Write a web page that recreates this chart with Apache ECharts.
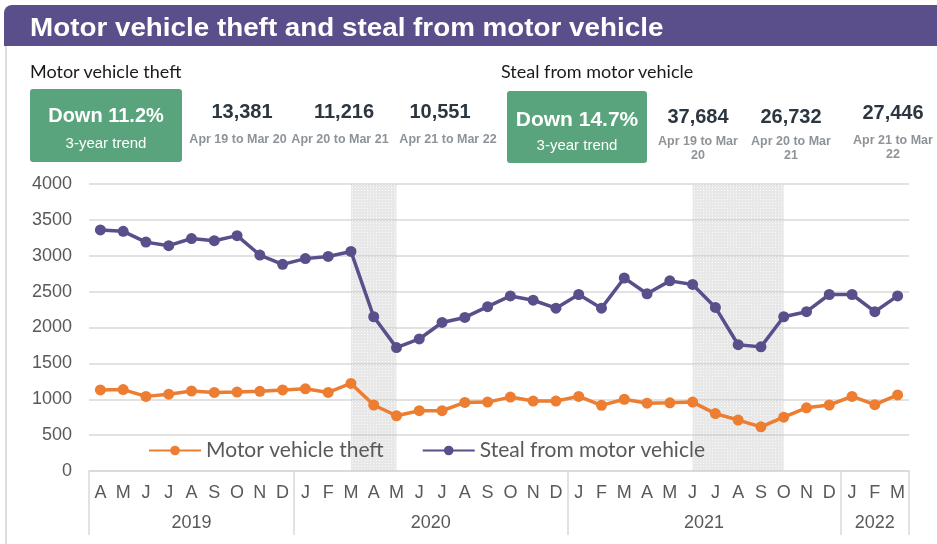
<!DOCTYPE html>
<html>
<head>
<meta charset="utf-8">
<script src="https://cdn.jsdelivr.net/npm/echarts@6/dist/echarts.min.js"></script>
<style>
  html, body { margin: 0; padding: 0; background: #fff; }
  #page { position: relative; width: 937px; height: 544px; overflow: hidden; font-family: "Liberation Sans", Arial, sans-serif; }
  #chart { position: absolute; left: 0; top: 0; width: 937px; height: 544px; }
  .header { position: absolute; left: 4px; top: 5px; width: 933px; height: 41px; background: #5a4e8b; border-top-left-radius: 8px; }
  .title { position: absolute; left: 30px; top: 7px; height: 40px; line-height: 40px; color: #fff; font-weight: bold; font-size: 26px; white-space: nowrap; transform-origin: left center; }
  .frame { position: absolute; left: 5px; top: 45px; width: 2px; height: 499px; background: #dedede; }
  .sub { position: absolute; font-family: Lato, "Open Sans", sans-serif; font-size: 18px; color: #1a1a1a; line-height: 22px; white-space: nowrap; }
  .box { position: absolute; background: #5aa47d; border-radius: 3px; color: #fff; text-align: center; }
  .box .big { position: absolute; left: 0; right: 0; font-weight: bold; white-space: nowrap; }
  .box .small { position: absolute; left: 0; right: 0; font-size: 15px; }
  .num { position: absolute; text-align: center; font-weight: bold; font-size: 20px; line-height: 22px; color: #2b3640; }
  .per { position: absolute; text-align: center; font-weight: bold; font-size: 12.5px; line-height: 14px; color: #8e9398; }
</style>
</head>
<body>
<div id="page">
  <div id="chart"></div>
  <div class="frame"></div>
  <div class="header"></div>
  <div class="title" id="title">Motor vehicle theft and steal from motor vehicle</div>
</div>
<script>
// ---- data ----
const months = ['A','M','J','J','A','S','O','N','D','J','F','M','A','M','J','J','A','S','O','N','D','J','F','M','A','M','J','J','A','S','O','N','D','J','F','M'];
const years = ['2019', '2020', '2021', '2022'];
const yearSpans = [9, 12, 12, 3];

const theft = [1130, 1135, 1040, 1070, 1115, 1095, 1100, 1110, 1130, 1145, 1095, 1220,
               920, 770, 840, 840, 955, 960, 1030, 975, 975, 1040, 915, 1000,
               945, 950, 960, 800, 710, 615, 750, 880, 920, 1040, 925, 1060];
const steal = [3360, 3340, 3190, 3140, 3240, 3210, 3280, 3010, 2880, 2960, 2990, 3060,
               2150, 1720, 1840, 2070, 2140, 2290, 2440, 2380, 2270, 2460, 2270, 2690,
               2470, 2650, 2600, 2280, 1760, 1730, 2150, 2220, 2460, 2460, 2220, 2440];

// shaded periods (category index from / to)
const shaded = [[11, 13], [26, 30]];

const periods = ['Apr 19 to Mar 20', 'Apr 20 to Mar 21', 'Apr 21 to Mar 22'];
const theftTotals = [13381, 11216, 10551];
const stealTotals = [37684, 26732, 27446];
const theftTrend = 'Down 11.2%';
const stealTrend = 'Down 14.7%';
const trendNote = '3-year trend';

// ---- header / kpi ----
const page = document.getElementById('page');
const title = document.getElementById('title');
title.style.transform = 'scaleX(' + (633 / title.offsetWidth) + ')';

function el(cls, html, css) {
  const d = document.createElement('div');
  d.className = cls;
  d.innerHTML = html;
  Object.assign(d.style, css);
  page.appendChild(d);
  return d;
}

el('sub', 'Motor vehicle theft', { left: '30px', top: '60px' });
el('sub', 'Steal from motor vehicle', { left: '501px', top: '60px' });

function box(x, y, w, h, text, bigSize, bigTop, smallTop) {
  const b = el('box', '', { left: x + 'px', top: y + 'px', width: w + 'px', height: h + 'px' });
  const big = document.createElement('div');
  big.className = 'big'; big.textContent = text;
  Object.assign(big.style, { fontSize: bigSize + 'px', top: bigTop + 'px', lineHeight: '24px' });
  const small = document.createElement('div');
  small.className = 'small'; small.textContent = trendNote;
  Object.assign(small.style, { top: smallTop + 'px', lineHeight: '18px' });
  b.appendChild(big); b.appendChild(small);
}
box(30, 89, 152, 73, theftTrend, 20, 14, 45);
box(507, 91, 140, 72, stealTrend, 21, 16, 45);

const fmt = v => v.toLocaleString('en-US');
const theftNumX = [242, 344, 440], theftPerX = [238, 340, 448];
theftTotals.forEach((v, i) => {
  el('num', fmt(v), { left: (theftNumX[i] - 50) + 'px', width: '100px', top: '100px' });
  el('per', periods[i], { left: (theftPerX[i] - 55) + 'px', width: '110px', top: '132px' });
});
const stealNumX = [698, 791, 893], stealNumY = [105, 105, 101], stealPerY = [134, 134, 133];
stealTotals.forEach((v, i) => {
  el('num', fmt(v), { left: (stealNumX[i] - 50) + 'px', width: '100px', top: stealNumY[i] + 'px' });
  el('per', periods[i], { left: (stealNumX[i] - 45) + 'px', width: '90px', top: stealPerY[i] + 'px' });
});

// ---- chart ----
const yearStarts = [];
const yearMids = [];
let acc = 0;
yearSpans.forEach(s => { yearStarts.push(acc); yearMids.push(acc + s / 2); acc += s; });
yearStarts.push(acc);

// dotted fill for the shaded periods
const pat = document.createElement('canvas');
pat.width = 3; pat.height = 3;
const pc = pat.getContext('2d');
pc.fillStyle = 'rgba(200,200,200,0.42)';
pc.fillRect(0, 0, 3, 3);
pc.fillStyle = 'rgba(255,255,255,0.75)';
pc.fillRect(1, 1, 1, 1);

const gray = '#595959';
const font = 'Liberation Sans';
const chart = echarts.init(document.getElementById('chart'));
chart.setOption({
  animation: false,
  grid: { left: 89, right: 28, top: 184, bottom: 73 },
  legend: {
    data: ['Motor vehicle theft', 'Steal from motor vehicle'],
    left: 143, top: 435,
    itemWidth: 52, itemHeight: 12, itemGap: 38,
    textStyle: { fontSize: 21, color: gray, fontFamily: 'Lato' }
  },
  xAxis: [{
    type: 'category',
    data: months,
    boundaryGap: true,
    axisLine: { lineStyle: { color: '#d9d9d9', width: 1.5 } },
    axisTick: { show: false },
    axisLabel: { interval: 0, fontSize: 18, color: gray, margin: 13, fontFamily: font }
  }, {
    // year labels
    type: 'value',
    min: 0, max: acc,
    position: 'bottom',
    offset: 30,
    axisLine: { show: false },
    axisTick: { show: false },
    splitLine: { show: false },
    axisLabel: {
      customValues: yearMids,
      formatter: (v) => years[yearMids.indexOf(v)] || '',
      fontSize: 18, color: gray, margin: 13, fontFamily: font
    }
  }, {
    // year separators
    type: 'value',
    min: 0, max: acc,
    position: 'bottom',
    axisLine: { show: false },
    splitLine: { show: false },
    axisLabel: { show: false },
    axisTick: {
      show: true,
      customValues: yearStarts,
      length: 64,
      lineStyle: { color: '#d9d9d9', width: 1.5 }
    }
  }],
  yAxis: {
    type: 'value',
    min: 0, max: 4000, interval: 500,
    axisLine: { show: false },
    axisTick: { show: false },
    axisLabel: { fontSize: 18, color: gray, margin: 17, fontFamily: font, formatter: v => String(v) },
    splitLine: { lineStyle: { color: '#d9d9d9', width: 1.5 } }
  },
  series: [{
    name: 'Motor vehicle theft',
    type: 'line',
    data: theft,
    symbol: 'circle', symbolSize: 11,
    itemStyle: { color: '#ed7d31' },
    lineStyle: { width: 3.5, color: '#ed7d31' },
    z: 2
  }, {
    name: 'Steal from motor vehicle',
    type: 'line',
    data: steal,
    symbol: 'circle', symbolSize: 11,
    itemStyle: { color: '#5a4e8b' },
    lineStyle: { width: 3.5, color: '#5a4e8b' },
    z: 2
  }, {
    name: 'shade',
    type: 'line',
    data: [],
    z: 5,
    silent: true,
    markArea: {
      silent: true,
      itemStyle: { color: { image: pat, repeat: 'repeat' } },
      data: shaded.map(s => [{ xAxis: s[0] }, { xAxis: s[1] }])
    }
  }]
});
</script>
</body>
</html>
